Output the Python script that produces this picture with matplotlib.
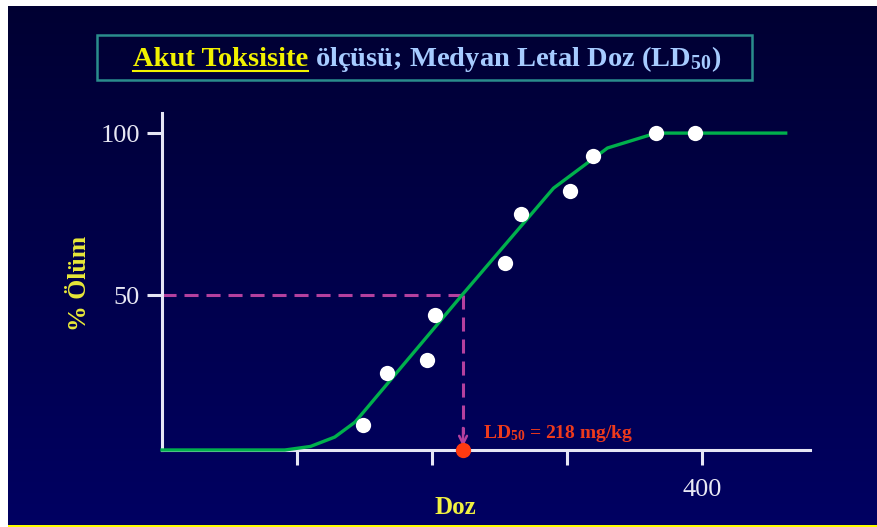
import numpy as np
import matplotlib
matplotlib.use('Agg')
import matplotlib.pyplot as plt
from matplotlib.patches import Rectangle
from matplotlib.lines import Line2D
from matplotlib.colors import LinearSegmentedColormap

# egri (yesil cizgi) ve deney noktalari
doz_egri = [0, 91, 110, 128, 143, 221, 290, 330, 366, 462]
olum_egri = [2.2, 2.2, 3.3, 6.2, 10.8, 49.4, 83, 95.4, 100, 100]
doz_nokta = [149, 167, 196, 202, 254, 266, 302, 319, 366, 395]
olum_nokta = [10, 26, 30, 44, 60, 75, 82, 93, 100, 100]
ld50_x = 223
ld50_y = 50
x_ticks = [100, 200, 300, 400]
x_tick_labels = ['', '', '', '400']
y_ticks = [50, 100]
y_tick_labels = ['50', '100']

W, H = 877, 527
fig = plt.figure(figsize=(W/100, H/100), dpi=100)
plt.rcParams['mathtext.default'] = 'regular'
serif = 'Liberation Serif'

# arka plan gradyan
bg = fig.add_axes([0, 0, 1, 1], zorder=-10)
grad = np.linspace(0, 1, 256).reshape(-1, 1)
cm = LinearSegmentedColormap.from_list('bg', ['#000032', '#000062'])
bg.imshow(grad, aspect='auto', cmap=cm, extent=[0, 1, 0, 1], origin='upper')
bg.set_xlim(0, 1); bg.set_ylim(0, 1)
bg.axis('off')
bg.add_patch(Rectangle((0, 0), 8/W, 1, color='white', lw=0))
bg.add_patch(Rectangle((0, 1-6/H), 1, 6/H, color='white', lw=0))
bg.add_patch(Rectangle((8/W, 0), 1, 2.5/H, color='#ffff00', lw=0))
# baslik kutusu
bg.add_patch(Rectangle((97/W, 1-80/H), (752-97)/W, 45/H, facecolor='none',
                       edgecolor='#2a8c8c', lw=1.8))

ax = fig.add_axes([162/W, 77/H, (810-162)/W, (450-113)/H])
ax.set_facecolor('none')
ax.set_xlim(0, 480)
ax.set_ylim(2.2, 106.2)
for s in ['top', 'right']:
    ax.spines[s].set_visible(False)
for s in ['left', 'bottom']:
    ax.spines[s].set_color('#e6e6f4')
    ax.spines[s].set_linewidth(2.2)

ax.set_xticks(x_ticks)
ax.set_xticklabels(x_tick_labels)
ax.set_yticks(y_ticks)
ax.set_yticklabels(y_tick_labels)
ax.tick_params(axis='both', colors='#e6e6f4', width=2.2, length=11,
               labelsize=19, pad=5)
ax.tick_params(axis='x', pad=10)
for lab in ax.get_xticklabels() + ax.get_yticklabels():
    lab.set_fontfamily(serif)
    lab.set_color('#e8e8f4')

# kesikli LD50 cizgileri
ax.plot([0, ld50_x], [ld50_y, ld50_y], color='#b4409e', lw=2.2,
        linestyle=(0, (4.6, 2.6)), zorder=2, clip_on=False)
ax.plot([ld50_x, ld50_x], [ld50_y, 7], color='#b4409e', lw=2.2,
        linestyle=(0, (4.6, 2.6)), zorder=2)
ax.annotate('', xy=(ld50_x, 3.3), xytext=(ld50_x, 9),
            arrowprops=dict(arrowstyle='->', color='#b4409e', lw=1.8,
                            mutation_scale=14, shrinkA=0, shrinkB=0))

ax.plot(doz_egri, olum_egri, color='#00b04c', lw=2.4, zorder=3,
        clip_on=False, solid_joinstyle='round')
ax.plot(doz_nokta, olum_nokta, 'o', color='white', ms=11, mec='none',
        zorder=4, clip_on=False)
ax.plot([ld50_x], [2.2], 'o', color='#ff3a10', ms=11, mec='none',
        zorder=5, clip_on=False)

ax.text(238, 6.0, 'LD$_{50}$ = 218 mg/kg', color='#ee3a1c', fontsize=14,
        fontweight='bold', fontfamily=serif, va='baseline', ha='left')

fig.text(455/W, 1-508/H, 'Doz', color='#f0f040', fontsize=18,
         fontweight='bold', fontfamily=serif, ha='center', va='center')
fig.text(79/W, 1-283/H, '% Ölüm', rotation=90, color='#e8e838',
         fontsize=18.5, fontweight='bold', fontfamily=serif,
         ha='center', va='center')

# baslik
t1 = fig.text(133/W, 1-66/H, 'Akut Toksisite', color='#f2f200',
              fontsize=20.5, fontweight='bold', fontfamily=serif,
              va='baseline', ha='left')
t2 = fig.text(0, 0, ' ölçüsü; Medyan Letal Doz (LD$_{50}$)', color='#a6cbff',
              fontsize=20.5, fontweight='bold', fontfamily=serif,
              va='baseline', ha='left')
fig.canvas.draw()
r = fig.canvas.get_renderer()
bb = t1.get_window_extent(r)
t2.set_position((bb.x1/W, 1-66/H))
fig.add_artist(Line2D([bb.x0/W, bb.x1/W], [1-71/H, 1-71/H],
                      color='#f2f200', lw=1.5, transform=fig.transFigure))

fig.savefig('out.png', dpi=100, facecolor='#000040')
